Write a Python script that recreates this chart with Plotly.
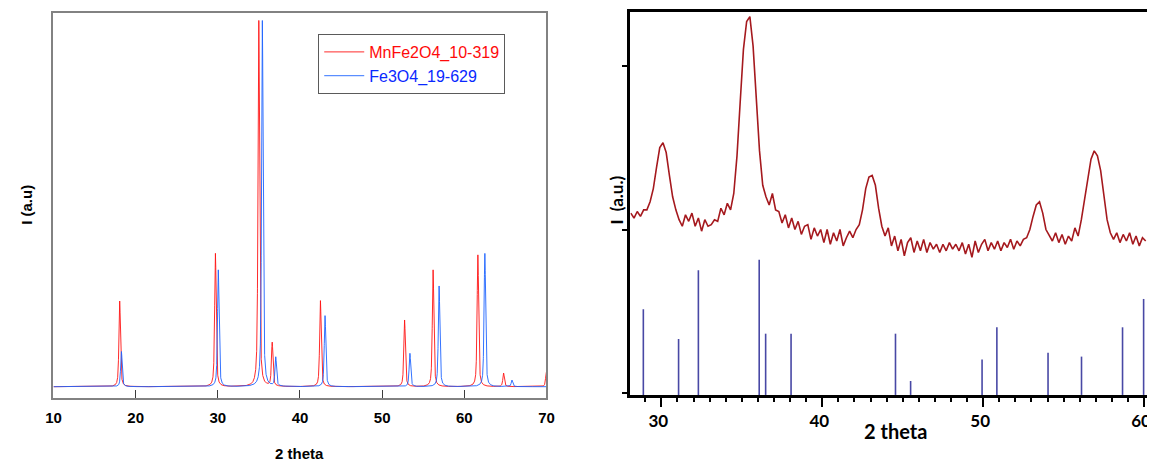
import numpy as np
import plotly.graph_objects as go

# ---------------- Left panel: reference patterns (2θ, relative intensity) ----------------
mn_name = "MnFe2O4_10-319"
mn_pos = [18.06, 29.71, 34.99, 36.62, 42.49, 52.73, 56.20, 61.65, 64.78, 69.98]
mn_int = [23.4, 36.4, 100.0, 11.9, 23.5, 18.2, 31.9, 36.0, 3.7, 3.9]

fe_name = "Fe3O4_19-629"
fe_pos = [18.27, 30.06, 35.42, 37.05, 43.05, 53.38, 56.93, 62.50, 65.80]
fe_int = [9.6, 31.9, 100.0, 7.9, 19.4, 9.1, 27.5, 36.4, 1.8]

left_ticks = [10, 20, 30, 40, 50, 60, 70]

# ---------------- Right panel: measured pattern + reference sticks ----------------
xrd_start = 28.1
xrd_step = 0.2
xrd_int = [
    1.10, 1.07, 1.11, 1.08, 1.12, 1.12, 1.17, 1.25, 1.38, 1.50,   # 28.1 - 29.9
    1.53, 1.47, 1.33, 1.20, 1.12, 1.06, 1.02, 1.09, 1.05, 1.10,   # 30.1 - 31.9
    1.02, 1.07, 0.99, 1.06, 1.02, 1.03, 1.06, 1.05, 1.13, 1.09,   # 32.1 - 33.9
    1.16, 1.12, 1.22, 1.45, 1.78, 2.10, 2.27, 2.30, 2.12, 1.80,   # 34.1 - 35.9
    1.48, 1.27, 1.20, 1.15, 1.22, 1.12, 1.11, 1.04, 1.09, 1.01,   # 36.1 - 37.9
    1.07, 1.00, 1.05, 0.97, 1.02, 1.03, 0.94, 1.01, 0.96, 1.00,   # 38.1 - 39.9
    0.92, 1.00, 0.91, 0.98, 0.93, 1.00, 0.90, 0.95, 0.99, 0.95,   # 40.1 - 41.9
    1.00, 1.03, 1.12, 1.25, 1.32, 1.33, 1.27, 1.13, 1.02, 0.96,   # 42.1 - 43.9
    1.01, 0.90, 0.96, 0.87, 0.94, 0.84, 0.92, 0.95, 0.86, 0.93,   # 44.1 - 45.9
    0.87, 0.94, 0.86, 0.92, 0.88, 0.91, 0.86, 0.91, 0.87, 0.92,   # 46.1 - 47.9
    0.88, 0.91, 0.87, 0.92, 0.85, 0.91, 0.83, 0.93, 0.86, 0.91,   # 48.1 - 49.9
    0.94, 0.87, 0.92, 0.88, 0.93, 0.87, 0.92, 0.89, 0.94, 0.88,   # 50.1 - 51.9
    0.93, 0.90, 0.94, 0.95, 1.00, 1.08, 1.15, 1.17, 1.10, 1.00,   # 52.1 - 53.9
    0.96, 0.93, 0.98, 0.92, 0.97, 0.91, 0.96, 0.93, 1.01, 0.96,   # 54.1 - 55.9
    1.06, 1.18, 1.32, 1.43, 1.48, 1.45, 1.36, 1.20, 1.06, 0.98,   # 56.1 - 57.9
    0.94, 0.98, 0.92, 0.97, 0.93, 0.98, 0.91, 0.96, 0.90, 0.95,   # 58.1 - 59.9
    0.93,                                                         # 60.1
]
stick_pos = [28.88, 31.07, 32.30, 36.08, 36.48, 38.06, 44.55, 45.49,
             49.93, 50.85, 54.03, 56.11, 58.66, 59.97]
stick_int = [0.513, 0.331, 0.751, 0.816, 0.364, 0.364, 0.364, 0.075,
             0.207, 0.403, 0.248, 0.224, 0.403, 0.576]
right_ticks = [30, 40, 50, 60]

# ---------------- build ----------------
OFF = 8                      # page body margin of the html page
W, H = 1155 - OFF, 461 - OFF


def px_x(p):
    return (p - OFF) / W


def px_y(p):
    return 1 - (p - OFF) / H


def profile(x, pos, inten, hw=0.11, eta=0.6):
    y = np.zeros_like(x)
    for p, h in zip(pos, inten):
        d = (x - p) / hw
        y += h * (eta / (1 + d * d) + (1 - eta) * np.exp(-np.log(2) * d * d))
    return y


xg = np.arange(10.0, 70.0001, 0.005)

fig = go.Figure()

red_txt = "<span style='color:#ff0a0a'>%s</span>" % mn_name
blue_txt = "<span style='color:#0a28ff'>%s</span>" % fe_name

fig.add_trace(go.Scatter(x=xg, y=profile(xg, mn_pos, mn_int), mode="lines",
                         line=dict(color="rgba(255,20,20,0.9)", width=1),
                         name=red_txt, xaxis="x", yaxis="y"))
fig.add_trace(go.Scatter(x=xg, y=profile(xg, fe_pos, fe_int), mode="lines",
                         line=dict(color="rgba(30,100,255,0.9)", width=1),
                         name=blue_txt, xaxis="x", yaxis="y"))

# right panel
xr = [round(xrd_start + i * xrd_step, 2) for i in range(len(xrd_int))]
sx, sy = [], []
for p, h in zip(stick_pos, stick_int):
    sx += [p, p, None]
    sy += [-0.01, h, None]
fig.add_trace(go.Scatter(x=sx, y=sy, mode="lines",
                         line=dict(color="rgb(72,72,165)", width=1.6),
                         showlegend=False, xaxis="x2", yaxis="y2"))
fig.add_trace(go.Scatter(x=xr, y=xrd_int, mode="lines",
                         line=dict(color="rgb(165,25,30)", width=1.6),
                         showlegend=False, xaxis="x2", yaxis="y2"))

left_font = "Arial, Liberation Sans, sans-serif"
right_font = "Lato, Open Sans, sans-serif"

fig.update_layout(
    width=W, height=H,
    margin=dict(l=0, r=0, t=0, b=0),
    paper_bgcolor="white", plot_bgcolor="white",
    showlegend=True,
    legend=dict(x=px_x(314.5), y=px_y(64), xanchor="left", yanchor="middle",
                bgcolor="white", bordercolor="rgb(90,90,90)", borderwidth=1,
                font=dict(family=left_font, size=16, color="black"),
                tracegroupgap=0, itemwidth=40),
    xaxis=dict(domain=[px_x(46), px_x(546)], range=[10, 70],
               tickvals=left_ticks, ticks="inside", ticklen=8, tickwidth=1,
               tickcolor="rgb(60,60,60)",
               showline=True, linecolor="rgb(130,130,130)", linewidth=2, mirror=True,
               showgrid=False, zeroline=False,
               tickfont=dict(family=left_font, size=15, color="black", weight="bold"),
               ticklabelstandoff=5, anchor="y"),
    yaxis=dict(domain=[px_y(397.7), px_y(13.3)], range=[-3.0, 102.0],
               showticklabels=False, ticks="",
               showline=True, linecolor="rgb(130,130,130)", linewidth=2, mirror=True,
               showgrid=False, zeroline=False, anchor="x"),
    xaxis2=dict(domain=[px_x(631), 1.0], range=[28.07, 60.18],
                tickvals=right_ticks, ticks="outside", ticklen=9, tickwidth=2,
                tickcolor="black",
                minor=dict(dtick=1, tick0=0, ticks="outside", ticklen=4, tickwidth=1.5,
                           tickcolor="black", showgrid=False),
                showline=True, linecolor="black", linewidth=2.5, mirror=True,
                showgrid=False, zeroline=False,
                tickfont=dict(family=right_font, size=17, color="black", weight="bold"),
                ticklabelstandoff=0, ticklabelshift=-3, anchor="y2"),
    yaxis2=dict(domain=[px_y(395), px_y(11.7)], range=[-0.0104, 2.33],
                tickvals=[0, 1, 2], showticklabels=False, ticks="outside", ticklen=6,
                tickwidth=1.5, tickcolor="black",
                showline=True, linecolor="black", linewidth=2.5, mirror=False,
                showgrid=False, zeroline=False, anchor="x2"),
    annotations=[
        dict(text="<b>2 theta</b>", x=px_x(296), y=px_y(453), xref="paper", yref="paper",
             xanchor="center", yanchor="middle", showarrow=False,
             font=dict(family=left_font, size=15, color="black")),
        dict(text="<b>I (a.u)</b>", x=px_x(18), y=px_y(205), xref="paper", yref="paper",
             xanchor="center", yanchor="middle", showarrow=False, textangle=-90,
             font=dict(family=left_font, size=15, color="black")),
        dict(text="<b>2 theta</b>", x=px_x(900), y=px_y(431), xref="paper", yref="paper",
             xanchor="center", yanchor="middle", showarrow=False,
             font=dict(family=right_font, size=20, color="black")),
        dict(text="<b>I  (a.u.)</b>", x=px_x(617), y=px_y(200), xref="paper", yref="paper",
             xanchor="center", yanchor="middle", showarrow=False, textangle=-90,
             font=dict(family=right_font, size=17, color="black")),
    ],
)

fig.write_html("out.html")
